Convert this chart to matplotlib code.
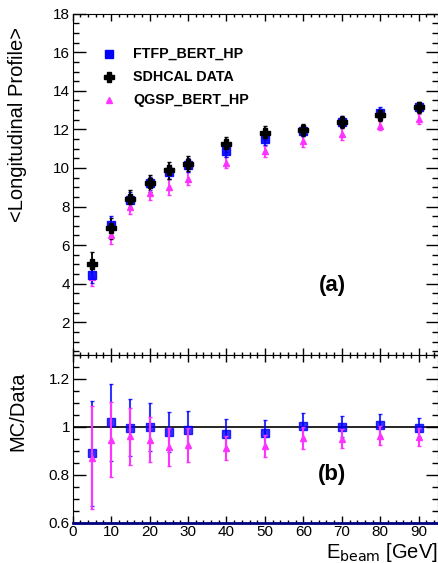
import numpy as np
import matplotlib
matplotlib.use("Agg")
import matplotlib.pyplot as plt
from matplotlib.ticker import MultipleLocator, FormatStrFormatter

plt.rcParams['font.family'] = ['Liberation Sans', 'DejaVu Sans']

# ---------------------------
# data
# ---------------------------
energy = [5, 10, 15, 20, 25, 30, 40, 50, 60, 70, 80, 90]

data_prof = [5.02, 6.88, 8.37, 9.2, 9.88, 10.23, 11.22, 11.8, 11.98, 12.37, 12.75, 13.14]
data_err = [0.6, 0.55, 0.5, 0.45, 0.45, 0.4, 0.4, 0.35, 0.3, 0.3, 0.3, 0.3]

ftfp_prof = [4.43, 7.02, 8.35, 9.2, 9.8, 10.15, 10.86, 11.5, 11.94, 12.4, 12.84, 13.14]
ftfp_err = [0.4, 0.5, 0.4, 0.35, 0.35, 0.35, 0.3, 0.3, 0.3, 0.3, 0.3, 0.25]

qgsp_prof = [4.33, 6.53, 8.0, 8.72, 9.02, 9.45, 10.28, 10.86, 11.38, 11.77, 12.2, 12.55]
qgsp_err = [0.45, 0.45, 0.4, 0.4, 0.4, 0.35, 0.3, 0.3, 0.3, 0.3, 0.25, 0.25]

ftfp_ratio = [0.889, 1.019, 0.997, 1.0, 0.979, 0.989, 0.969, 0.975, 1.004, 1.0, 1.007, 0.997]
ftfp_ratio_err = [0.218, 0.161, 0.12, 0.1, 0.084, 0.077, 0.062, 0.055, 0.052, 0.044, 0.046, 0.04]

qgsp_ratio = [0.871, 0.947, 0.96, 0.947, 0.915, 0.924, 0.912, 0.919, 0.954, 0.95, 0.964, 0.957]
qgsp_ratio_err = [0.215, 0.157, 0.118, 0.095, 0.08, 0.07, 0.05, 0.046, 0.046, 0.04, 0.04, 0.038]

blue = '#0000ff'
magenta = '#ff33ff'

fig = plt.figure(figsize=(4.39, 5.63), dpi=100)
ax1 = fig.add_axes([0.1656, 0.3694, 0.832, 0.6063])
ax2 = fig.add_axes([0.1656, 0.0716, 0.832, 0.2978])

# ---------------------------
# top panel: profile
# ---------------------------
ax1.errorbar(energy, qgsp_prof, yerr=qgsp_err, fmt='^', color=magenta, ms=5,
             elinewidth=1.3, capsize=1.5, mec=magenta, label='QGSP_BERT_HP')
ax1.errorbar(energy, ftfp_prof, yerr=ftfp_err, fmt='s', color=blue, ms=6,
             elinewidth=1.3, capsize=1.5, alpha=0.9, label='FTFP_BERT_HP')
ax1.errorbar(energy, data_prof, yerr=data_err, fmt='P', color='black', ms=7,
             elinewidth=1.3, capsize=1.5, mec='black', label='SDHCAL DATA')

ax1.set_xlim(0, 95)
ax1.set_ylim(0.3, 18)
ax1.set_ylabel('<Longitudinal Profile>', fontsize=14.5)
ax1.yaxis.set_label_coords(-0.125, 0.675)
ax1.yaxis.set_major_locator(MultipleLocator(2))
ax1.yaxis.set_minor_locator(MultipleLocator(0.5))
ax1.xaxis.set_major_locator(MultipleLocator(10))
ax1.xaxis.set_minor_locator(MultipleLocator(2))
ax1.tick_params(labelbottom=False)

# hand-made legend (ROOT style, no frame)
legend_rows = [('s', blue, 6, 'FTFP_BERT_HP'),
               ('P', 'black', 7, 'SDHCAL DATA'),
               ('^', magenta, 5, 'QGSP_BERT_HP')]
for i, (m, c, s, lab) in enumerate(legend_rows):
    yy = 0.882 - i * 0.067
    ax1.plot([0.1005], [yy], marker=m, color=c, ms=s, transform=ax1.transAxes, clip_on=False)
    ax1.text(0.165, yy, lab, transform=ax1.transAxes, fontsize=10.3,
             fontweight='bold', va='center', ha='left')

ax1.text(0.71, 0.203, '(a)', transform=ax1.transAxes, fontsize=16,
         fontweight='bold', ha='center', va='center')

# ---------------------------
# bottom panel: ratio
# ---------------------------
ax2.axhline(1.0, color='black', lw=1.2, zorder=1)
ax2.errorbar(energy, qgsp_ratio, yerr=qgsp_ratio_err, fmt='^', color=magenta, ms=5,
             elinewidth=1.5, capsize=1.5, mec=magenta, zorder=3)
ax2.errorbar(energy, ftfp_ratio, yerr=ftfp_ratio_err, fmt='s', color=blue, ms=6,
             elinewidth=1.5, capsize=1.5, alpha=0.8, zorder=2)

ax2.set_xlim(0, 95)
ax2.set_ylim(0.6, 1.3)
ax2.set_ylabel('MC/Data', fontsize=14.5)
ax2.yaxis.set_label_coords(-0.125, 0.665)
ax2.yaxis.set_major_locator(MultipleLocator(0.2))
ax2.yaxis.set_minor_locator(MultipleLocator(0.05))
ax2.yaxis.set_major_formatter(FormatStrFormatter('%g'))
ax2.xaxis.set_major_locator(MultipleLocator(10))
ax2.xaxis.set_minor_locator(MultipleLocator(2))
ax2.spines['bottom'].set_color('#000080')
ax2.spines['bottom'].set_linewidth(2)
ax2.set_xlabel(r'E$_{\mathrm{beam}}$ [GeV]', fontsize=14.5)
ax2.xaxis.set_label_coords(1.0, -0.108)
ax2.xaxis.label.set_horizontalalignment('right')
ax2.xaxis.label.set_verticalalignment('top')

ax2.text(0.71, 0.29, '(b)', transform=ax2.transAxes, fontsize=16,
         fontweight='bold', ha='center', va='center')

for ax in (ax1, ax2):
    ax.tick_params(which='both', direction='in', top=True, right=True,
                   labelsize=11, width=1, pad=2)
    ax.tick_params(axis='y', which='major', length=9)
    ax.tick_params(axis='y', which='minor', length=4)
    ax.tick_params(axis='x', which='major', length=5)
    ax.tick_params(axis='x', which='minor', length=2.5)

fig.savefig('out.png', dpi=100)
